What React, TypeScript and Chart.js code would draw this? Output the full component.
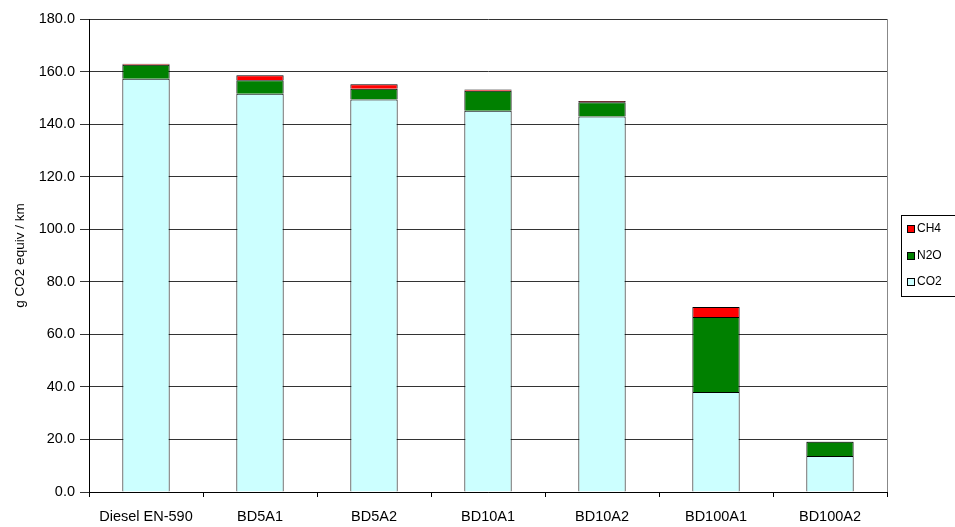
import React, { useEffect, useRef } from "react";
import { Chart, registerables } from "chart.js";

Chart.register(...registerables);

const categories = ["Diesel EN-590", "BD5A1", "BD5A2", "BD10A1", "BD10A2", "BD100A1", "BD100A2"];
const co2 = [157.3, 151.6, 149.4, 145.1, 142.9, 38.1, 13.7];
const n2o = [5.3, 5.1, 4.1, 7.6, 5.4, 28.5, 5.4];
const ch4 = [0.4, 1.9, 1.7, 0.5, 0.5, 3.8, 0.1];
const yTicks = [0, 20, 40, 60, 80, 100, 120, 140, 160, 180];
const yTitle = "g CO2 equiv / km";

const seriesNames = ["CO2", "N2O", "CH4"];
const seriesColors = ["#CCFFFF", "#008000", "#FF0000"];

const FONT = "'Liberation Sans', Arial, sans-serif";

export default function App() {
  const ref = useRef<HTMLCanvasElement | null>(null);

  useEffect(() => {
    document.body.style.margin = "0";
    const canvas = ref.current;
    if (!canvas) return;

    const legendPlugin = {
      id: "boxLegend",
      afterDraw(chart: any) {
        const ctx = chart.ctx;
        const area = chart.chartArea;
        ctx.save();
        // plot-area right border
        ctx.strokeStyle = "#888";
        ctx.lineWidth = 1;
        ctx.beginPath();
        ctx.moveTo(Math.round(area.right) + 0.5, area.top);
        ctx.lineTo(Math.round(area.right) + 0.5, area.bottom);
        ctx.stroke();
        // legend box
        const bx = 901, by = 215, bw = 70, bh = 81;
        ctx.strokeStyle = "#000";
        ctx.strokeRect(bx + 0.5, by + 0.5, bw, bh);
        const items = [2, 1, 0];
        const rows = [229, 256, 282];
        ctx.font = `12px ${FONT}`;
        ctx.textBaseline = "middle";
        ctx.textAlign = "left";
        items.forEach((si, i) => {
          const y = rows[i];
          ctx.fillStyle = seriesColors[si];
          ctx.fillRect(907, y - 4, 7, 7);
          ctx.strokeStyle = "#000";
          ctx.strokeRect(907.5, y - 3.5, 7, 7);
          ctx.fillStyle = "#000";
          ctx.fillText(seriesNames[si], 917, y);
        });
        ctx.restore();
      },
    };

    const data = [co2, n2o, ch4];
    const chart = new Chart(canvas, {
      type: "bar",
      data: {
        labels: categories,
        datasets: seriesNames.map((name, i) => ({
          label: name,
          data: data[i],
          backgroundColor: seriesColors[i],
          borderColor: "#000",
          borderWidth: 1,
          barPercentage: 0.415,
          categoryPercentage: 1,
        })),
      },
      options: {
        responsive: false,
        animation: false,
        maintainAspectRatio: false,
        layout: { padding: { left: 0, right: 955 - 887, top: 19, bottom: 0 } },
        plugins: {
          legend: { display: false },
          tooltip: { enabled: false },
        },
        scales: {
          x: {
            stacked: true,
            grid: {
              display: true,
              drawOnChartArea: false,
              offset: true,
              tickLength: 5,
              color: "#000",
            },
            border: { color: "#000", width: 1 },
            ticks: {
              color: "#000",
              font: { family: FONT, size: 14.5 },
              padding: 11,
              maxRotation: 0,
              autoSkip: false,
            },
            afterFit: (s: any) => {
              s.height = 35;
            },
          },
          y: {
            stacked: true,
            min: 0,
            max: 180,
            afterBuildTicks: (s: any) => {
              s.ticks = yTicks.map((v) => ({ value: v }));
            },
            grid: {
              color: "#333",
              tickLength: 9,
              lineWidth: 1,
            },
            border: { color: "#000", width: 1 },
            ticks: {
              color: "#000",
              font: { family: FONT, size: 14.5 },
              padding: 5,
              callback: (v: any) => Number(v).toFixed(1),
            },
            title: {
              display: true,
              text: yTitle,
              color: "#000",
              font: { family: FONT, size: 13.5 },
              padding: { top: 12, bottom: 0 },
            },
            afterFit: (s: any) => {
              s.width = 89;
            },
          },
        },
      },
      plugins: [legendPlugin],
    });
    return () => chart.destroy();
  }, []);

  return (
    <div style={{ width: 955, height: 527, background: "#fff" }}>
      <canvas ref={ref} width={955} height={527} style={{ display: "block" }} />
    </div>
  );
}
